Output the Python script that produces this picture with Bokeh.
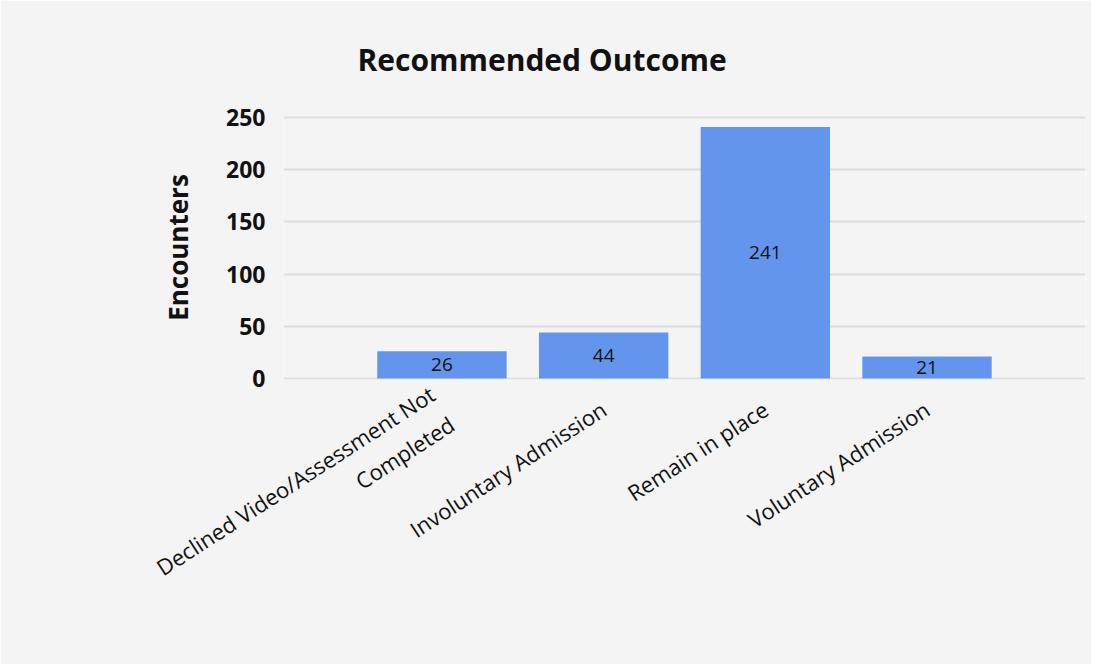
import math
from bokeh.plotting import figure
from bokeh.models import ColumnDataSource, LabelSet, FactorRange, Range1d
from bokeh.core.properties import value
from bokeh.embed import file_html
from bokeh.resources import INLINE

categories = ["Declined Video/Assessment Not\nCompleted", "Involuntary Admission", "Remain in place", "Voluntary Admission"]
values = [26, 44, 241, 21]
y_ticks = [0, 50, 100, 150, 200, 250]

FONT = "Open Sans"
BG = "#f4f4f4"
TXT = "#111111"

src = ColumnDataSource(dict(cat=categories, val=values, mid=[v / 2 for v in values],
                            lab=[str(v) for v in values]))

p = figure(width=1091, height=664, output_backend="svg", toolbar_location=None,
           x_range=FactorRange(*categories, range_padding=0.48, range_padding_units="absolute"),
           y_range=Range1d(-1, 252),
           min_border_left=283, min_border_right=6, min_border_top=113, min_border_bottom=285)

p.background_fill_color = BG
p.border_fill_color = BG
p.outline_line_color = None

p.vbar(x="cat", top="val", bottom=0, width=0.8, source=src, fill_color="#6495ED", line_color=None)

labels = LabelSet(x="cat", y="mid", text="lab", source=src, text_align="center",
                  text_baseline="middle", text_font_size="19px", text_color=TXT,
                  text_font=value(FONT))
p.add_layout(labels)

p.title.text = "Recommended Outcome"
p.title.align = "left"
p.title.offset = 74
p.title.standoff = 72
p.title.text_font = FONT
p.title.text_font_size = "30px"
p.title.text_font_style = "bold"
p.title.text_color = TXT

p.xgrid.grid_line_color = None
p.ygrid.grid_line_color = "#dddddd"
p.ygrid.grid_line_width = 2

p.yaxis.ticker = y_ticks
p.yaxis.axis_label = "Encounters"
p.yaxis.axis_label_text_font = FONT
p.yaxis.axis_label_text_font_size = "26px"
p.yaxis.axis_label_text_font_style = "bold"
p.yaxis.axis_label_text_color = TXT
p.yaxis.axis_label_standoff = 27
p.yaxis.major_label_text_font = FONT
p.yaxis.major_label_text_font_size = "23px"
p.yaxis.major_label_text_font_style = "bold"
p.yaxis.major_label_text_color = TXT
p.yaxis.major_label_standoff = 12

for ax in (p.xaxis, p.yaxis):
    ax.axis_line_color = None
    ax.major_tick_line_color = None
    ax.minor_tick_line_color = None

p.xaxis.major_label_orientation = math.radians(33)
p.xaxis.major_label_text_font = FONT
p.xaxis.major_label_text_font_size = "22px"
p.xaxis.major_label_text_color = TXT
p.xaxis.major_label_standoff = 21

open("out.html", "w").write(file_html(p, INLINE))
